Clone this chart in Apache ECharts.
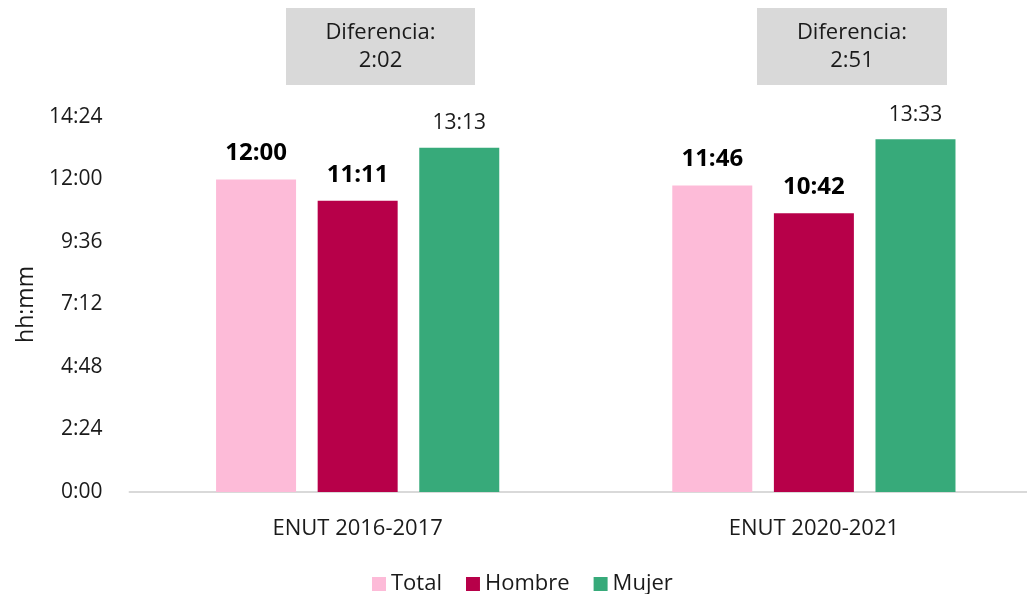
<!DOCTYPE html>
<html>
<head>
<meta charset="utf-8">
<script src="https://cdn.jsdelivr.net/npm/echarts@6/dist/echarts.min.js"></script>
<style>
html,body{margin:0;padding:0;background:#fff;overflow:hidden;width:1027px;height:594px;}
#c{width:1042px;height:594px;}
</style>
</head>
<body>
<div id="c"></div>
<script>
// Data (minutes)
const categories = ['ENUT 2016-2017', 'ENUT 2020-2021'];
const seriesNames = ['Total', 'Hombre', 'Mujer'];
const totalValues = [720, 706];   // 12:00, 11:46
const hombreValues = [671, 642];  // 11:11, 10:42
const mujerValues = [793, 813];   // 13:13, 13:33
const yTicks = [0, 144, 288, 432, 576, 720, 864]; // 0:00 ... 14:24
const differences = ['2:02', '2:51'];

const FONT = '"Open Sans", "Noto Sans", sans-serif';
function hm(v){ const h = Math.floor(v/60), m = Math.round(v - h*60); return h + ':' + (m<10?'0':'') + m; }

const colors = ['#FDBBD8', '#B70049', '#37AA7A'];

const chart = echarts.init(document.getElementById('c'), null, {renderer:'canvas'});
const labelBold = {show:true, position:'top', distance:14, formatter:p=>hm(p.value), fontFamily:FONT, fontSize:24, fontWeight:'bold', color:'#000'};
const labelNorm = {show:true, position:'top', distance:14, formatter:p=>hm(p.value), fontFamily:FONT, fontSize:21, color:'#1a1a1a'};

chart.setOption({
  animation:false,
  color: colors,
  grid:{left:129.55, right:0, top:117, bottom:102, containLabel:false},
  legend:{
    data: seriesNames, top:573, left:372, padding:0, icon:'rect', itemWidth:14, itemHeight:14, itemGap:24,
    textStyle:{fontFamily:FONT, fontSize:22, color:'#1a1a1a'}
  },
  xAxis:{
    type:'category', data:categories,
    axisLine:{lineStyle:{color:'#d9d9d9', width:2}},
    axisTick:{show:false},
    axisLabel:{fontFamily:FONT, fontSize:22, color:'#1a1a1a', margin:26}
  },
  yAxis:{
    type:'value', min:yTicks[0], max:yTicks[yTicks.length-1], interval:144,
    name:'hh:mm', nameLocation:'middle', nameGap:92, nameRotate:90,
    nameTextStyle:{fontFamily:FONT, fontSize:23, color:'#1a1a1a'},
    splitLine:{show:false}, axisLine:{show:false}, axisTick:{show:false},
    axisLabel:{fontFamily:FONT, fontSize:21, color:'#1a1a1a', margin:27, formatter:v=>hm(v)}
  },
  series:[
    {name:seriesNames[0], type:'bar', data:totalValues, barWidth:80, barGap:'27%', label:labelBold},
    {name:seriesNames[1], type:'bar', data:hombreValues, barWidth:80, barGap:'27%', label:labelBold},
    {name:seriesNames[2], type:'bar', data:mujerValues, barWidth:80, barGap:'27%', label:labelNorm}
  ],
  graphic:[
    {type:'rect', left:286, top:8, shape:{width:189, height:77}, style:{fill:'#d9d9d9'}},
    {type:'text', style:{text:'Diferencia:\n' + differences[0], fontFamily:FONT, fontSize:22, fill:'#1a1a1a', align:'center', verticalAlign:'top', lineHeight:28}, x:380.5, y:19},
    {type:'rect', left:757, top:8, shape:{width:190, height:77}, style:{fill:'#d9d9d9'}},
    {type:'text', style:{text:'Diferencia:\n' + differences[1], fontFamily:FONT, fontSize:22, fill:'#1a1a1a', align:'center', verticalAlign:'top', lineHeight:28}, x:852, y:19}
  ]
});
</script>
</body>
</html>
